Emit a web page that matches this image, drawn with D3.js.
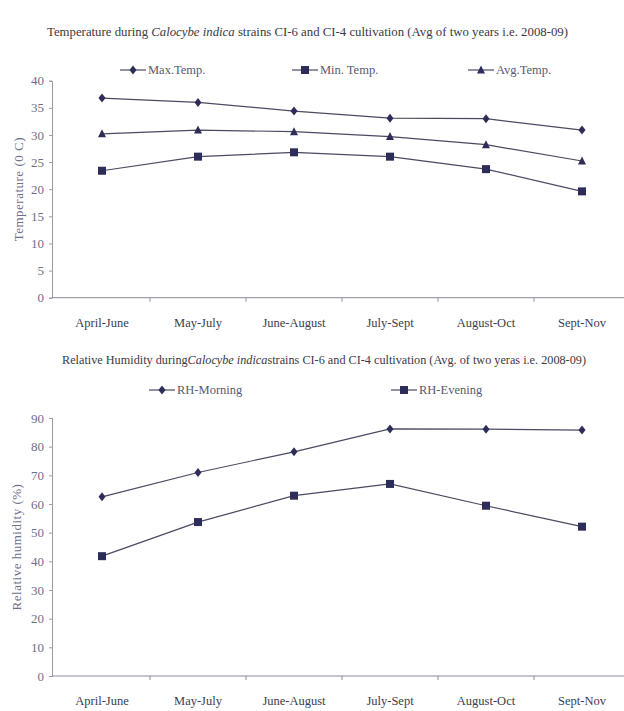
<!DOCTYPE html>
<html>
<head>
<meta charset="utf-8">
<script src="https://cdn.jsdelivr.net/npm/d3@7"></script>
<style>
  body { margin: 0; background: #fff; }
  svg { display: block; font-family: 'Liberation Serif', 'DejaVu Serif', serif; }
  .tick text { fill: #6e6e8c; }
  .xlab .tick text { fill: #3c3c50; }
</style>
</head>
<body>
<div id="chart"></div>
<script>
const categories = ['April-June', 'May-July', 'June-August', 'July-Sept', 'August-Oct', 'Sept-Nov'];

// temperature (deg C)
const maxTemp = [36.8, 36.0, 34.4, 33.1, 33.0, 30.9];
const minTemp = [23.4, 26.0, 26.8, 26.0, 23.7, 19.6];
const avgTemp = [30.2, 30.9, 30.6, 29.7, 28.2, 25.2];
const tempTicks = [0, 5, 10, 15, 20, 25, 30, 35, 40];

// relative humidity (%)
const rhMorning = [62.5, 71.0, 78.2, 86.2, 86.1, 85.8];
const rhEvening = [41.8, 53.7, 62.9, 67.0, 59.4, 52.1];
const rhTicks = [0, 10, 20, 30, 40, 50, 60, 70, 80, 90];

const lineColor = '#4a4a62';
const markColor = '#2c2d58';

const svg = d3.select('#chart')
    .append('svg')
    .attr('width', 624)
    .attr('height', 711)

function drawMarker(g, shape, x, y) {
    if (shape === 'diamond') {
        g.append('path')
            .attr('d', `M${x},${y - 4.5}L${x + 3.5},${y}L${x},${y + 4.5}L${x - 3.5},${y}Z`)
            .attr('fill', markColor)
    } else if (shape === 'square') {
        g.append('rect')
            .attr('x', x - 4).attr('y', y - 4)
            .attr('width', 8).attr('height', 8)
            .attr('fill', markColor)
    } else {
        g.append('path')
            .attr('d', `M${x},${y - 4.5}L${x + 4},${y + 3.5}L${x - 4},${y + 3.5}Z`)
            .attr('fill', markColor)
    }
}

function drawChart(opts) {
    const xScale = d3.scaleBand()
        .domain(categories)
        .range([54, 630])
        .padding(0)

    const yScale = d3.scaleLinear()
        .domain([0, d3.max(opts.ticks)])
        .range([opts.bottom, opts.top])

    const g = svg.append('g')

    // y axis
    const yAxis = d3.axisLeft(yScale)
        .tickValues(opts.ticks)
        .tickSize(3)
        .tickPadding(5)
    const yAxisGroup = g.append('g')
        .attr('transform', 'translate(52,0)')
        .call(yAxis)
        .attr('font-family', null)
        .attr('font-size', 13)
    yAxisGroup.select('.domain').attr('stroke', '#9a9aa8')
    yAxisGroup.selectAll('.tick line').attr('stroke', '#9a9aa8')

    // x axis
    const xAxis = d3.axisBottom(xScale)
        .tickSize(0)
        .tickPadding(20)
    const xAxisGroup = g.append('g')
        .classed('xlab', true)
        .attr('transform', `translate(0,${opts.bottom})`)
        .call(xAxis)
        .attr('font-family', null)
        .attr('font-size', 12.5)
    xAxisGroup.select('.domain').attr('d', 'M52,0H624').attr('stroke', '#8a8a98')
    // boundary ticks between categories
    xAxisGroup.selectAll('.sep')
        .data(categories.slice(1))
        .join('line')
        .classed('sep', true)
        .attr('x1', d => xScale(d))
        .attr('x2', d => xScale(d))
        .attr('y1', 0)
        .attr('y2', 4)
        .attr('stroke', '#8a8a98')

    // y title
    g.append('text')
        .attr('transform', `translate(${opts.yTitleX},${(opts.top + opts.bottom) / 2}) rotate(-90)`)
        .attr('text-anchor', 'middle')
        .attr('fill', '#6e6e8c')
        .style('font-size', '13px')
        .style('letter-spacing', '0.5px')
        .text(opts.yTitle)

    // chart title
    const title = g.append('text')
        .attr('x', opts.titleX)
        .attr('y', opts.titleY)
        .attr('fill', '#3a3a44')
        .style('font-size', '12px')
        .attr('textLength', opts.titleLen)
        .attr('lengthAdjust', 'spacingAndGlyphs')
    opts.titleParts.forEach(p => {
        title.append('tspan')
            .style('font-style', p.italic ? 'italic' : 'normal')
            .text(p.text)
    })

    // series
    const line = d3.line()
        .x((d, i) => xScale(categories[i]) + xScale.bandwidth() / 2)
        .y(d => yScale(d))

    opts.series.forEach(s => {
        g.append('path')
            .datum(s.values)
            .attr('d', line)
            .attr('fill', 'none')
            .attr('stroke', lineColor)
            .attr('stroke-width', 1.2)
        s.values.forEach((v, i) => {
            drawMarker(g, s.shape, xScale(categories[i]) + xScale.bandwidth() / 2, yScale(v))
        })

        // legend entry
        g.append('line')
            .attr('x1', s.legendX).attr('x2', s.legendX + 26)
            .attr('y1', opts.legendY).attr('y2', opts.legendY)
            .attr('stroke', lineColor)
            .attr('stroke-width', 1.2)
        drawMarker(g, s.shape, s.legendX + 13, opts.legendY)
        g.append('text')
            .attr('x', s.legendX + 28)
            .attr('y', opts.legendY + 4)
            .attr('fill', '#5a5a70')
            .style('font-size', '12.5px')
            .text(s.name)
    })
}

drawChart({
    top: 80.7,
    bottom: 297.7,
    ticks: tempTicks,
    yTitle: 'Temperature (0 C)',
    yTitleX: 23,
    titleX: 47,
    titleY: 36,
    titleLen: 521,
    titleParts: [
        { text: 'Temperature during ' },
        { text: 'Calocybe indica', italic: true },
        { text: '  strains CI-6 and CI-4 cultivation (Avg of two years i.e. 2008-09)' }
    ],
    legendY: 70,
    series: [
        { name: 'Max.Temp.', values: maxTemp, shape: 'diamond', legendX: 120 },
        { name: 'Min. Temp.', values: minTemp, shape: 'square', legendX: 292 },
        { name: 'Avg.Temp.', values: avgTemp, shape: 'triangle', legendX: 468 }
    ]
})

drawChart({
    top: 418,
    bottom: 676,
    ticks: rhTicks,
    yTitle: 'Relative humidity (%)',
    yTitleX: 21,
    titleX: 62,
    titleY: 364,
    titleLen: 524,
    titleParts: [
        { text: 'Relative Humidity during' },
        { text: 'Calocybe indica', italic: true },
        { text: 'strains CI-6 and CI-4 cultivation (Avg. of two yeras i.e. 2008-09)' }
    ],
    legendY: 390,
    series: [
        { name: 'RH-Morning', values: rhMorning, shape: 'diamond', legendX: 149 },
        { name: 'RH-Evening', values: rhEvening, shape: 'square', legendX: 391 }
    ]
})
</script>
</body>
</html>
